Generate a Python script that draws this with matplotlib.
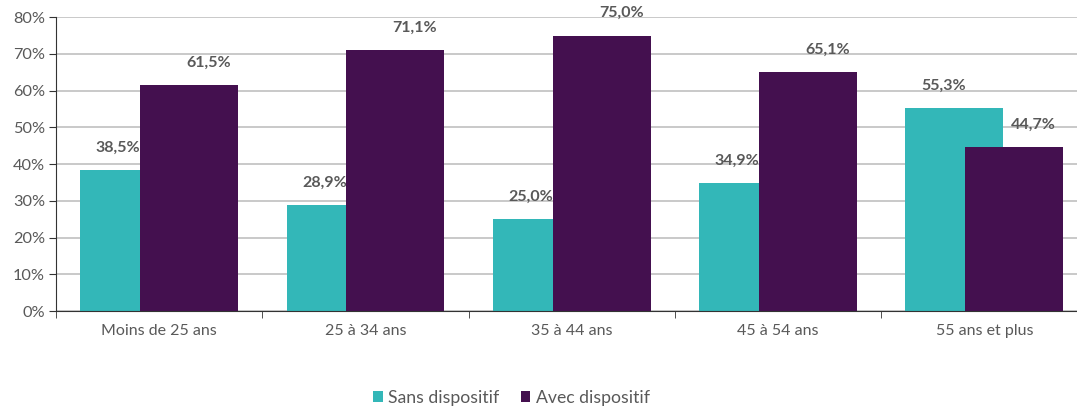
import matplotlib
matplotlib.use("Agg")
import matplotlib.pyplot as plt
import numpy as np

plt.rcParams['font.family'] = ['Lato', 'DejaVu Sans']

categories = ["Moins de 25 ans", "25 à 34 ans", "35 à 44 ans", "45 à 54 ans", "55 ans et plus"]
sans = [38.5, 28.9, 25.0, 34.9, 55.3]
avec = [61.5, 71.1, 75.0, 65.1, 44.7]
yticks = [0, 10, 20, 30, 40, 50, 60, 70, 80]

teal = "#33B7B8"
purple = "#44104F"
grey = "#595959"

fig = plt.figure(figsize=(10.77, 4.09), dpi=100)
ax = fig.add_axes([0.052, 0.239, 0.948, 0.719])

x = np.arange(len(categories))
w = 0.475
off = 0.145
b1 = ax.bar(x - off, sans, w, color=teal, label="Sans dispositif", zorder=2)
b2 = ax.bar(x + off, avec, w, color=purple, label="Avec dispositif", zorder=3)

# étiquettes de valeurs
for xi, v in zip(x, sans):
    ax.annotate(f"{v:.1f}%".replace(".", ","), (xi - off, v), xytext=(-8, 11),
                textcoords="offset points", ha="center", va="bottom",
                fontsize=11.5, fontweight="bold", color=grey, zorder=5)
for xi, v in zip(x, avec):
    ax.annotate(f"{v:.1f}%".replace(".", ","), (xi + off, v), xytext=(14, 11),
                textcoords="offset points", ha="center", va="bottom",
                fontsize=11.5, fontweight="bold", color=grey, zorder=5)

ax.set_xlim(-0.5, 4.449)
ax.set_ylim(0, 80)
ax.set_yticks(yticks)
ax.set_yticklabels([f"{t}%" for t in yticks], fontsize=11.7, color=grey)
ax.set_xticks(x)
ax.set_xticklabels(categories, fontsize=11.5, color=grey)
ax.set_xticks(np.arange(-0.5, 4.5, 1), minor=True)
ax.tick_params(axis="x", which="major", length=0, pad=9)
ax.tick_params(axis="x", which="minor", length=5, color="#333333", direction="out")
ax.tick_params(axis="y", length=5, color="#333333", pad=3)

ax.grid(axis="y", color="#C0C0C0", linewidth=1.2, zorder=0)
ax.set_axisbelow(True)
for s in ["top", "right"]:
    ax.spines[s].set_visible(False)
ax.spines["left"].set_color("#333333")
ax.spines["bottom"].set_color("#333333")

fig.legend(handles=[b1, b2], loc="center", bbox_to_anchor=(0.475, 0.028),
           ncol=2, frameon=False, fontsize=12.7, labelcolor=grey,
           handlelength=0.55, handleheight=0.55, handletextpad=0.3, columnspacing=1.2)

fig.savefig("out.png", dpi=100)
